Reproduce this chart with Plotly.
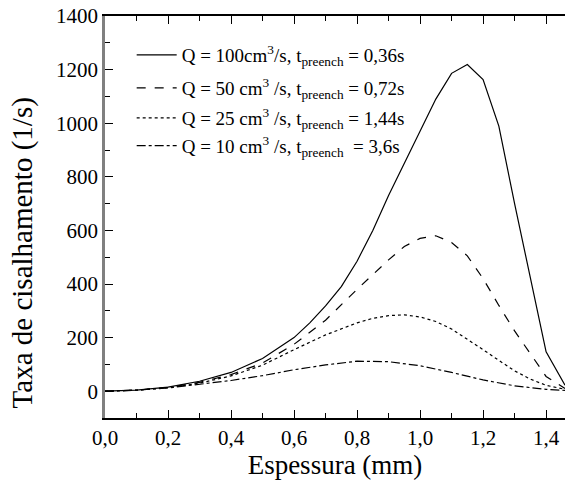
import plotly.graph_objects as go

x100 = [0.0, 0.1, 0.2, 0.3, 0.4, 0.5, 0.6, 0.65, 0.7, 0.75, 0.8, 0.85, 0.9, 0.95, 1.0, 1.05, 1.1, 1.15, 1.2, 1.25, 1.3, 1.35, 1.4, 1.46]
y100 = [0, 4, 15, 37, 70, 122, 200, 255, 318, 390, 485, 600, 730, 850, 965, 1090, 1186, 1219, 1163, 989, 700, 420, 147, 22]

x50 = [0.0, 0.1, 0.2, 0.3, 0.4, 0.5, 0.6, 0.7, 0.8, 0.9, 0.95, 1.0, 1.05, 1.1, 1.15, 1.2, 1.25, 1.3, 1.35, 1.4, 1.46]
y50 = [0, 4, 14, 33, 62, 105, 175, 265, 380, 490, 540, 570, 580, 555, 505, 420, 320, 225, 140, 55, 10]

x25 = [0.0, 0.1, 0.2, 0.3, 0.4, 0.5, 0.6, 0.7, 0.8, 0.85, 0.9, 0.95, 1.0, 1.05, 1.1, 1.15, 1.2, 1.25, 1.3, 1.35, 1.4, 1.46]
y25 = [0, 4, 13, 30, 57, 97, 155, 210, 255, 272, 282, 285, 277, 260, 232, 195, 155, 115, 76, 45, 22, 7]

x10 = [0.0, 0.1, 0.2, 0.3, 0.4, 0.5, 0.6, 0.7, 0.8, 0.9, 1.0, 1.1, 1.2, 1.3, 1.4, 1.46]
y10 = [0, 4, 12, 25, 40, 58, 80, 98, 112, 110, 95, 70, 42, 20, 7, 3]

names = [
    "Q = 100cm<sup>3</sup>/s, t<sub>preench</sub> = 0,36s",
    "Q = 50 cm<sup>3</sup> /s, t<sub>preench</sub> = 0,72s",
    "Q = 25 cm<sup>3</sup> /s, t<sub>preench</sub> = 1,44s",
    "Q = 10 cm<sup>3</sup> /s, t<sub>preench</sub>  = 3,6s",
]
dashes = ["solid", "dash", "dot", "dashdot"]
legend_ids = ["legend", "legend2", "legend3", "legend4"]
legend_y = [0.903, 0.821, 0.746, 0.677]

font = "Times New Roman, Liberation Serif, DejaVu Serif, serif"

fig = go.Figure()
for xs, ys, nm, ds, lg in zip([x100, x50, x25, x10], [y100, y50, y25, y10], names, dashes, legend_ids):
    fig.add_trace(go.Scatter(x=xs, y=ys, mode="lines", name=nm, legend=lg, showlegend=True,
                             line=dict(color="black", width=1.2, dash=ds)))

legends = {}
for lg, ly in zip(legend_ids, legend_y):
    legends[lg] = dict(x=0.058, y=ly, xanchor="left", yanchor="middle",
                       bgcolor="rgba(0,0,0,0)", font=dict(size=19, family=font),
                       itemwidth=40)

fig.update_layout(
    width=565, height=480,
    margin=dict(l=105, r=0, t=16, b=62),
    paper_bgcolor="white", plot_bgcolor="white",
    separators=", ",
    showlegend=True,
    font=dict(family=font, color="black", size=20),
    **legends,
    xaxis=dict(range=[0, 1.46], tick0=0, dtick=0.2, tickformat=".1f",
               ticks="inside", ticklen=8, tickwidth=1.2, tickcolor="black",
               minor=dict(dtick=0.1, ticks="inside", ticklen=5, tickcolor="black", tickwidth=1),
               showline=True, linecolor="black", linewidth=1.5, mirror="ticks",
               showgrid=False, zeroline=False,
               title=dict(text="Espessura (mm)", font=dict(size=27, family=font), standoff=6),
               tickfont=dict(size=21, family=font)),
    yaxis=dict(range=[-100, 1400], tick0=0, dtick=200,
               ticks="inside", ticklen=8, tickwidth=1.2, tickcolor="black",
               minor=dict(dtick=100, ticks="inside", ticklen=5, tickcolor="black", tickwidth=1),
               showline=True, linecolor="#808080", linewidth=2.5,
               showgrid=False, zeroline=False,
               tickfont=dict(size=21, family=font)),
    annotations=[dict(text="Taxa de cisalhamento (1/s)", textangle=-90,
                      xref="paper", yref="paper", x=-0.18, y=0.41,
                      xanchor="center", yanchor="middle", showarrow=False,
                      font=dict(size=29, family=font, color="black"))],
)

fig.write_html("out.html")
